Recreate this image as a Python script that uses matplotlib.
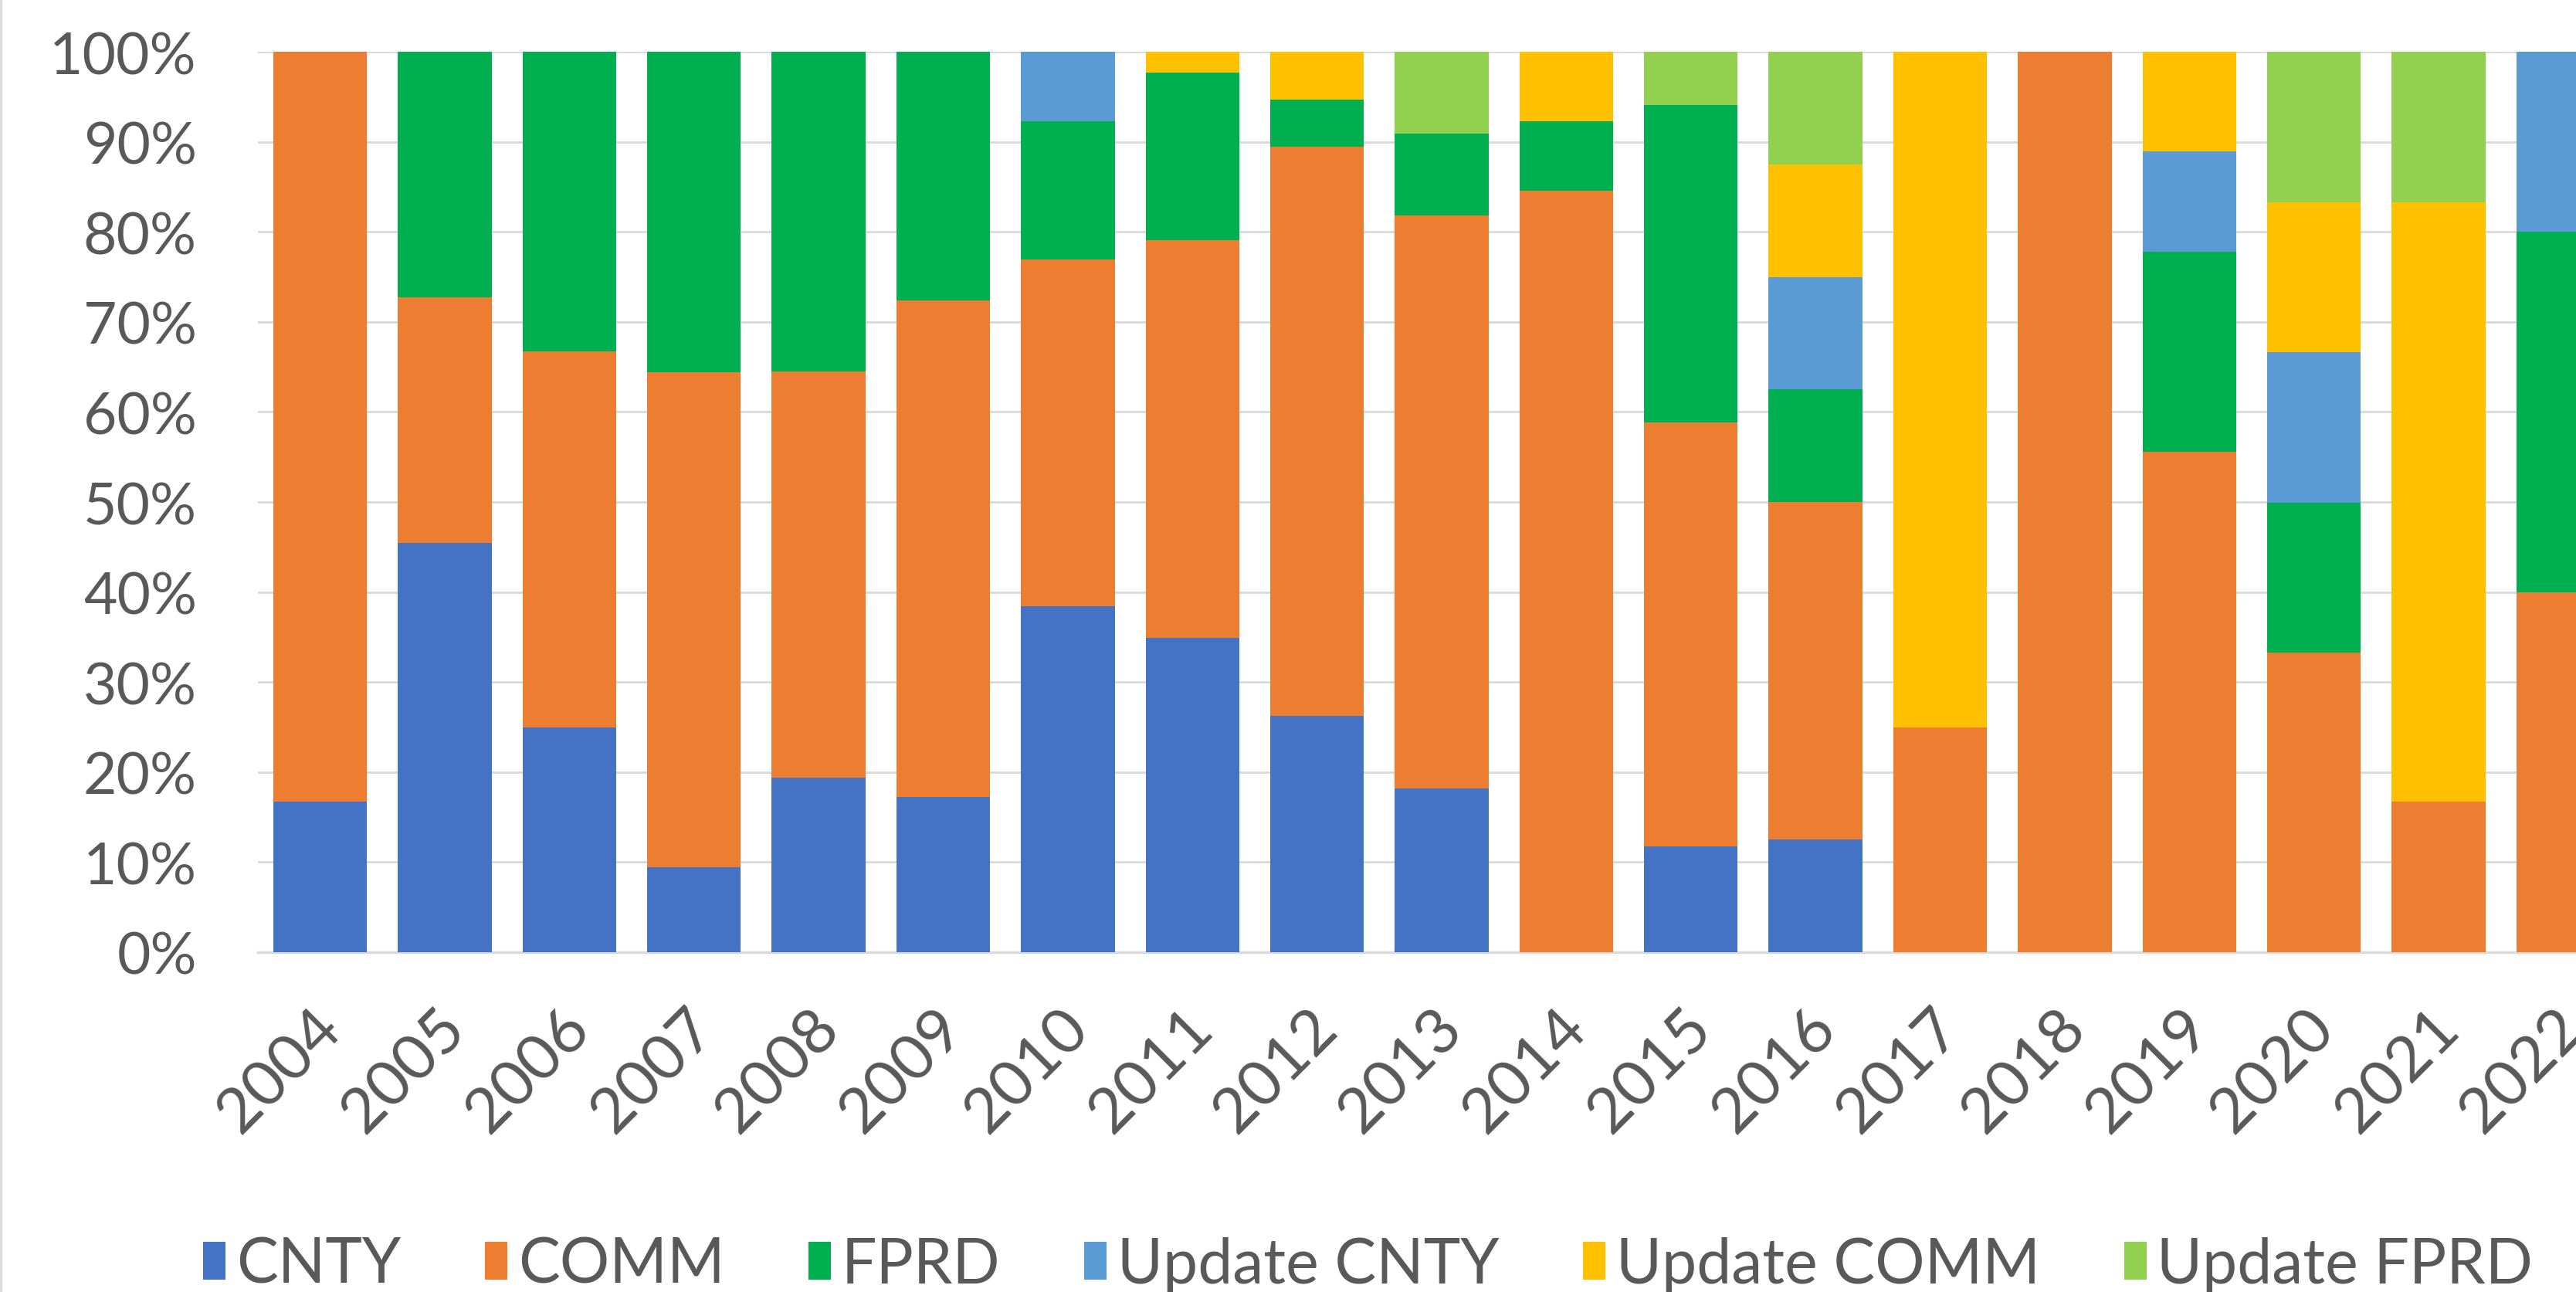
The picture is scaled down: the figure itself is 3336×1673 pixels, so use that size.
import matplotlib
matplotlib.use("Agg")
import matplotlib.pyplot as plt
import matplotlib.transforms as mtransforms
from matplotlib.lines import Line2D
import numpy as np

years = ["2004", "2005", "2006", "2007", "2008", "2009", "2010", "2011", "2012", "2013",
         "2014", "2015", "2016", "2017", "2018", "2019", "2020", "2021", "2022"]
cnty = [16.7, 45.5, 25.0, 9.4, 19.4, 17.2, 38.5, 34.9, 26.3, 18.2, 0, 11.8, 12.5, 0, 0, 0, 0, 0, 0]
comm = [83.3, 27.3, 41.7, 55.0, 45.1, 55.2, 38.5, 44.2, 63.2, 63.6, 84.6, 47.1, 37.5, 25.0, 100, 55.6, 33.3, 16.7, 40.0]
fprd = [0, 27.3, 33.3, 35.6, 35.5, 27.6, 15.4, 18.6, 5.3, 9.1, 7.7, 35.3, 12.5, 0, 0, 22.2, 16.7, 0, 40.0]
upd_cnty = [0, 0, 0, 0, 0, 0, 7.7, 0, 0, 0, 0, 0, 12.5, 0, 0, 11.1, 16.7, 0, 20.0]
upd_comm = [0, 0, 0, 0, 0, 0, 0, 2.3, 5.3, 0, 7.7, 0, 12.5, 75.0, 0, 11.1, 16.7, 66.7, 0]
upd_fprd = [0, 0, 0, 0, 0, 0, 0, 0, 0, 9.1, 0, 5.9, 12.5, 0, 0, 0, 16.7, 16.7, 0]

series_names = ["CNTY", "COMM", "FPRD", "Update CNTY", "Update COMM", "Update FPRD"]
series_vals = [cnty, comm, fprd, upd_cnty, upd_comm, upd_fprd]
colors = ["#4472C4", "#ED7D31", "#00B050", "#5B9BD5", "#FFC000", "#92D050"]

plt.rcParams["font.family"] = ["Lato", "DejaVu Sans"]
TXT = "#595959"

W, H = 3337, 1674
fig = plt.figure(figsize=(W / 100, H / 100), dpi=100)
ax = fig.add_axes([334 / W, 1 - 1234 / H, 3066 / W, (1234 - 68) / H])

data = np.array(series_vals, dtype=float)
totals = data.sum(axis=0)
pct = data / totals * 100.0

x = np.arange(len(years))
bottom = np.zeros(len(years))
for name, vals, c in zip(series_names, pct, colors):
    ax.bar(x, vals, width=0.752, bottom=bottom, color=c, label=name, zorder=3, linewidth=0)
    bottom += vals

ax.set_xlim(-0.5, len(years) - 0.5)
ax.set_ylim(0, 100)
ax.set_yticks(np.arange(0, 101, 10))
ax.set_yticklabels([f"{v}%" for v in range(0, 101, 10)])
ax.yaxis.grid(True, color="#D9D9D9", linewidth=2.0, zorder=0)
ax.set_axisbelow(True)
for s in ["top", "right", "left"]:
    ax.spines[s].set_visible(False)
ax.spines["bottom"].set_color("#D9D9D9")
ax.spines["bottom"].set_linewidth(2.5)
ax.spines["bottom"].set_zorder(2)

ax.tick_params(axis="y", length=0, pad=57, labelsize=54, labelcolor=TXT)
ax.tick_params(axis="x", length=0, pad=62, labelsize=59, labelcolor=TXT)
ax.set_xticks(x)
ax.set_xticklabels(years, rotation=45, ha="right", va="center", rotation_mode="anchor")
offset = mtransforms.ScaledTranslation(14 / 100, 0, fig.dpi_scale_trans)
for lbl in ax.get_xticklabels():
    lbl.set_transform(lbl.get_transform() + offset)

leg = fig.legend(loc="center", bbox_to_anchor=(0.531, 0.021), ncol=6, frameon=False,
                 fontsize=58, handlelength=0.36, handleheight=0.55, handletextpad=0.17,
                 columnspacing=1.35, borderaxespad=0)
for t in leg.get_texts():
    t.set_color(TXT)

fig.add_artist(Line2D([1 / W, 1 / W], [0, 1], transform=fig.transFigure, color="#D9D9D9", linewidth=2))

fig.savefig("out.png", dpi=100)
